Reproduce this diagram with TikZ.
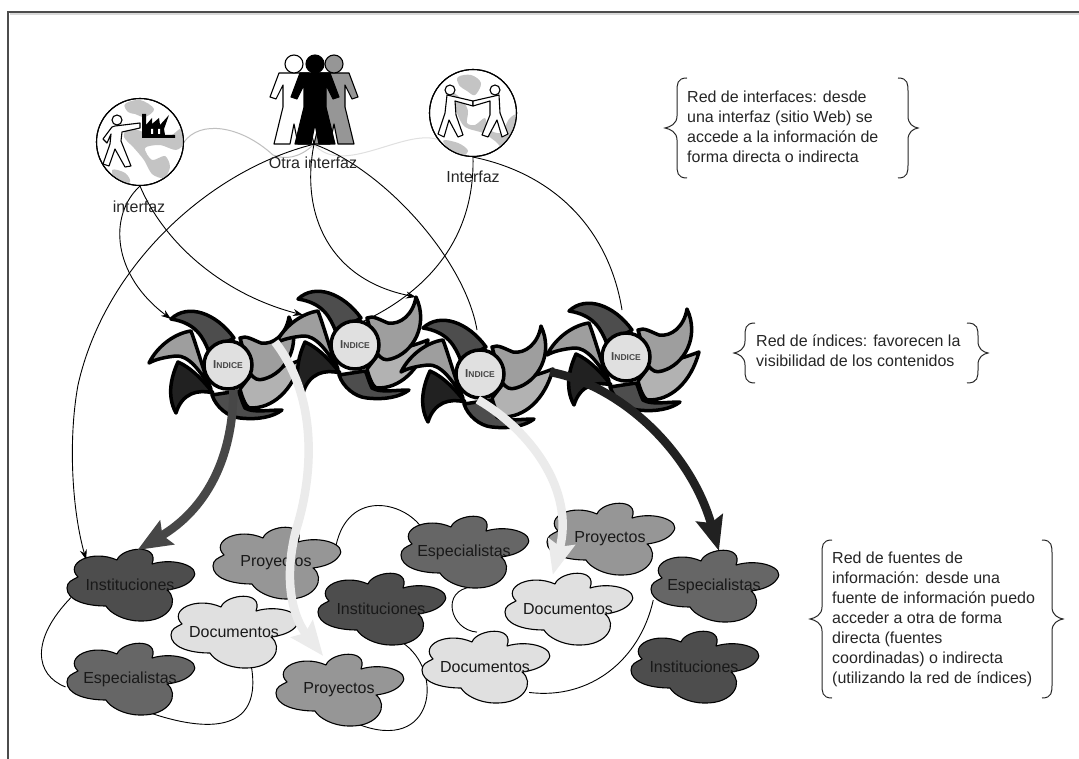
\documentclass[tikz,border=0pt]{standalone}
\usepackage{fontspec}
\setmainfont{Liberation Sans}
\usetikzlibrary{arrows.meta,shapes.geometric,backgrounds}
\definecolor{cInst}{HTML}{4D4D4D}
\definecolor{cEsp}{HTML}{666666}
\definecolor{cProy}{HTML}{969696}
\definecolor{cDoc}{HTML}{E0E0E0}
\definecolor{cTxt}{HTML}{262626}
\definecolor{cLand}{HTML}{C4C4C4}
\tikzset{
  lab/.style={font=\fontsize{16}{20}\selectfont,text=cTxt,inner sep=0pt,align=left},
  cloudanchor/.style={ellipse,minimum width=126pt,minimum height=70pt,inner sep=0pt,font=\fontsize{16}{20}\selectfont,text=black!90},
  cloudline/.style={draw=black,line width=1.1pt,line join=round},
  blade/.style={draw=black,line width=3.5pt,line join=round},
  hub/.style={circle,draw=black,line width=3.5pt,fill=cDoc,minimum size=48pt,inner sep=0pt,text=cTxt!85!white},
  globe/.style={circle,draw=black,line width=1.1pt,minimum size=87pt,inner sep=0pt},
  figure/.style={draw=black,line width=1.1pt,line join=round},
  thinline/.style={draw=black,line width=0.9pt},
  thinarrow/.style={thinline,-{Stealth[length=10pt,width=7pt]}},
  link/.style={line width=1pt},
  heavy/.style={line width=8.5pt,-{Stealth[length=34pt,width=27pt,inset=5pt]}},
  brace/.style={draw=cTxt,line width=1pt}
}
% cloud: name, x, y, colour, text
\newcommand{\cloudnode}[5]{%
  \begin{scope}[shift={(#2,#3)}]
    \path[cloudline,fill=#4] (-52,-8) .. controls (-66,-22) and (-38,-36) .. (-13,-25)
      .. controls (-8,-38) and (30,-42) .. (22,-21)
      .. controls (45,-28) and (72,-18) .. (63,-7)
      .. controls (58,1) and (45,4) .. (37,5)
      .. controls (50,15) and (40,37) .. (10,36)
      .. controls (-6,36) and (-20,28) .. (-24,21)
      .. controls (-45,21) and (-63,15) .. (-63,3)
      .. controls (-63,-3) and (-58,-5) .. (-52,-8) -- cycle;
    \node[cloudanchor] (#1) at (0,0) {#5};
  \end{scope}}
% pinwheel: name, x, y
\newcommand{\pinwheel}[3]{%
  \begin{scope}[shift={(#2,#3)}]
    \path[blade,fill=black!87] (-52,48) .. controls (-62,30) and (-56,10) .. (-50,-3)
      .. controls (-38,2) and (-25,15) .. (-15,28) .. controls (-30,24) and (-46,28) .. (-52,48) -- cycle;
    \path[blade,fill=cInst] (54,45) .. controls (40,45) and (25,48) .. (17,43)
      .. controls (13,35) and (12,28) .. (10,26) -- (-16,30)
      .. controls (-12,42) and (0,52) .. (12,53) .. controls (30,55) and (45,52) .. (54,45) -- cycle;
    \path[blade,fill=black!30] (73,-5) .. controls (60,0) and (45,5) .. (26,6) -- (12,24)
      .. controls (14,32) and (17,40) .. (21,43) .. controls (45,44) and (65,25) .. (73,-5) -- cycle;
    \path[blade,fill=black!38] (61,-48) .. controls (58,-30) and (45,-20) .. (33,-22)
      .. controls (25,-25) and (18,-30) .. (12,-27) -- (22,8)
      .. controls (26,14) and (30,16) .. (36,14) .. controls (58,8) and (74,-20) .. (61,-48) -- cycle;
    \path[blade,fill=black!38] (-79,-2) .. controls (-70,-20) and (-52,-32) .. (-37,-34)
      .. controls (-30,-15) and (-25,5) .. (-17,24)
      .. controls (-28,5) and (-40,-10) .. (-52,-9) .. controls (-62,-8) and (-72,-6) .. (-79,-2) -- cycle;
    \path[blade,fill=cInst] (-57,-46) .. controls (-40,-62) and (-12,-52) .. (6,-27) -- (-19,-13)
      .. controls (-25,-28) and (-32,-42) .. (-57,-46) -- cycle;
    \node[hub] (#1) at (0,0) {\bfseries{\fontsize{11.5}{12}\selectfont I}{\fontsize{8.5}{12}\selectfont NDICE}};
    \coordinate (#1toptip) at (-57,-46);
    \coordinate (#1righttip) at (61,-48);
    \coordinate (#1blade) at (47,-23);
    \coordinate (#1back) at (-76,15);
  \end{scope}}
% standing person: x, y, fill
\newcommand{\person}[3]{%
  \begin{scope}[shift={(#1,#2)}]
    \path[figure,fill=#3] (-15,-34) -- (-24,-10) -- (-18,-8) -- (-11,-22) -- (-11,0) -- (-20,37) -- (-4,37)
      -- (0,17) -- (4,37) -- (20,37) -- (11,0) -- (11,-22) -- (18,-8) -- (24,-10) -- (15,-34) -- cycle;
    \path[figure,fill=#3] (0,-43) circle[radius=9];
  \end{scope}}
\newcommand{\bracepair}[9]{%
  % xl-point xl-body xl-end xr-end xr-body xr-point ytop ymid ybot
  \path[brace] (#3,#7) .. controls (#2,#7) and (#2,#7+6) .. (#2,#7+14) -- (#2,#8-12)
    .. controls (#2,#8-4) and (#1+5,#8-1) .. (#1,#8) .. controls (#1+5,#8+1) and (#2,#8+4) .. (#2,#8+12)
    -- (#2,#9-14) .. controls (#2,#9-6) and (#2,#9) .. (#3,#9);
  \path[brace] (#4,#7) .. controls (#5,#7) and (#5,#7+6) .. (#5,#7+14) -- (#5,#8-12)
    .. controls (#5,#8-4) and (#6-5,#8-1) .. (#6,#8) .. controls (#6-5,#8+1) and (#5,#8+4) .. (#5,#8+12)
    -- (#5,#9-14) .. controls (#5,#9-6) and (#5,#9) .. (#4,#9);}
\begin{document}
\begin{tikzpicture}[x=1pt,y=-1pt]
\useasboundingbox (0,0) rectangle (1079,759);
\draw[black!15,line width=1.5pt] (10,14) -- (1079,14);
\draw[black!70,line width=1.5pt] (8,759) -- (8,12) -- (1079,12);

% clouds
\cloudnode{inst1}{130}{585}{cInst}{Instituciones}
\cloudnode{esp1}{130}{679}{cEsp}{Especialistas}
\cloudnode{doc1}{234}{632}{cDoc}{Documentos}
\cloudnode{proy1}{276}{563}{cProy}{Proyectos}
\cloudnode{proy2}{339}{690}{cProy}{Proyectos}
\cloudnode{inst2}{381}{609}{cInst}{Instituciones}
\cloudnode{esp2}{464}{552}{cEsp}{Especialistas}
\cloudnode{proy3}{610}{539}{cProy}{Proyectos}
\cloudnode{doc2}{568}{609}{cDoc}{Documentos}
\cloudnode{doc3}{485}{667}{cDoc}{Documentos}
\cloudnode{esp3}{714}{586}{cEsp}{Especialistas}
\cloudnode{inst3}{694}{667}{cInst}{Instituciones}

% index pinwheels
\pinwheel{p1}{228}{365}
\pinwheel{p2}{355}{345}
\pinwheel{p3}{480}{374}
\pinwheel{p4}{626}{357}

% globes
\node[globe,fill=white] (g1) at (140,142) {};
\begin{scope}[shift={(140,142)}]
  \clip (0,0) circle[radius=43];
  \fill[cLand] plot[smooth cycle,tension=0.6] coordinates {(-15,-38) (0,-42) (14,-33) (5,-25) (-5,-28) (-12,-30)};
  \fill[cLand] plot[smooth cycle,tension=0.5] coordinates {(-12,-14) (3,-10) (10,-4) (30,-6) (42,-14) (45,0) (36,8) (20,3)
    (5,6) (12,18) (25,14) (30,25) (24,36) (12,32) (4,18) (-6,6) (-16,-5)};
  \fill[cLand] plot[smooth cycle,tension=0.6] coordinates {(-28,28) (-15,31) (-10,40) (-22,42)};
\end{scope}
\node[globe] at (g1) {};
\begin{scope}[shift={(140,142)}]
  \path[figure,fill=white] (-25,-16) -- (0,-19) -- (0,-14) -- (-18,-10) -- (-19,-1) -- (-9,24) -- (-15,25)
    -- (-25,7) -- (-31,24) -- (-37,22) -- (-30,2) -- (-29,-8) -- (-33,1) -- (-37,-3) -- (-28,-15) -- cycle;
  \path[figure,fill=white] (-23,-22) circle[radius=5];
  \fill[black] (2,-28) -- (6,-28) -- (6,-17) -- (12,-24) -- (12,-18) -- (19,-24) -- (20,-17) -- (29,-27) -- (24,-13) -- (25,-7) -- (35,-7) -- (35,-4) -- (2,-4) -- cycle;
  \fill[white] (11,-13) rectangle (13,-8) (18,-13) rectangle (20,-8);
\end{scope}

\node[globe,fill=white] (g3) at (473,113) {};
\begin{scope}[shift={(473,113)}]
  \clip (0,0) circle[radius=43];
  \fill[cLand] plot[smooth cycle,tension=0.6] coordinates {(-15,-36) (-2,-38) (8,-30) (2,-18) (-6,-22) (-14,-28)};
  \fill[cLand] plot[smooth cycle,tension=0.5] coordinates {(-20,-20) (-10,-12) (-5,-2) (-6,10) (2,12) (12,5) (15,16) (28,20) (36,6) (44,2) (44,22) (32,36) (22,28) (10,20) (-8,14) (-16,0)};
  \fill[cLand] plot[smooth cycle,tension=0.6] coordinates {(-30,28) (-15,30) (-5,38) (-15,44)};
\end{scope}
\node[globe] at (g3) {};
\begin{scope}[shift={(473,113)}]
  \path[figure,fill=white] (-26,-18) -- (0,-12) -- (0,-7) -- (-18,-12) -- (-17,2) -- (-10,22) -- (-15,24)
    -- (-24,7) -- (-29,24) -- (-35,21) -- (-28,0) -- cycle;
  \path[figure,fill=white] (26,-18) -- (0,-12) -- (0,-7) -- (17,-12) -- (17,2) -- (9,22) -- (15,24)
    -- (24,7) -- (29,24) -- (35,21) -- (27,0) -- cycle;
  \path[figure,fill=white] (-23,-23) circle[radius=5];
  \path[figure,fill=white] (22,-23) circle[radius=5];
\end{scope}

% people
\node[minimum width=88pt,minimum height=89pt,inner sep=0pt] (people) at (314,99.5) {};
\person{294}{107}{white}
\person{334}{107}{cProy}
\person{315}{107}{black}

% named free ends
\coordinate (p2in) at (303,315);
\coordinate (p2low) at (362,322);
\coordinate (p3in) at (477,330);
\coordinate (p4in) at (622,310);

% thin connectors, behind everything
\begin{pgfonlayer}{background}
  \fill[white] (0,0) rectangle (1079,759);
  \draw[link,draw=black!25] (g1.east) .. controls (200,120) and (240,125) .. (273,155) .. controls (285,160) and (300,158) .. (people.south);
  \draw[link,draw=black!12] (people.south) .. controls (340,175) and (395,135) .. (430,138) .. controls (450,140) and (460,150) .. (g3.south);
  \draw[thinarrow] (g1.south) .. controls (108,215) and (112,275) .. (p1toptip);
  \draw[thinarrow] (g1.south) .. controls (165,245) and (225,295) .. (p2in);
  \draw[thinarrow] (people.south) .. controls (300,215) and (330,280) .. (p2righttip);
  \draw[thinline] (people.south) .. controls (385,170) and (465,260) .. (p3in);
  \draw[thinarrow] (people.south) .. controls (210,170) and (105,265) .. (78,385) .. controls (68,440) and (72,510) .. (inst1.150);
  \draw[thinline] (g3.south) .. controls (475,245) and (420,295) .. (p2low);
  \draw[thinline] (g3.south) .. controls (560,175) and (610,235) .. (p4in);
  \draw[thinline] (inst1.192) .. controls (30,640) and (35,675) .. (esp1.187);
  \draw[thinline] (esp1.300) .. controls (185,725) and (265,745) .. (doc1.297);
  \draw[thinline] (proy1.12) .. controls (345,490) and (400,500) .. (esp2.149);
  \draw[thinline] (inst2.302) .. controls (445,670) and (435,755) .. (proy2.298);
  \draw[thinline] (esp2.283) .. controls (440,590) and (450,630) .. (doc3.103);
  \draw[thinline] (doc3.330) .. controls (590,700) and (640,660) .. (esp3.193);
\end{pgfonlayer}

% thick arrows
\draw[heavy,color=black!72] (p1.-78) .. controls (233,460) and (205,510) .. (inst1.78);
\draw[heavy,color=black!8] (p1blade) .. controls (320,400) and (312,480) .. (296,530) .. controls (282,585) and (295,620) .. (proy2.115);
\draw[heavy,color=black!8] (p3.-95) .. controls (530,430) and (575,490) .. (doc2.114);
\draw[heavy,color=black!87] (p4back) .. controls (620,385) and (690,450) .. (esp3.82);

% labels
\node[lab] (l1) at (139,207) {interfaz};
\node[lab] (l2) at (313,163) {Otra interfaz};
\node[lab] (l3) at (473,177) {Interfaz};

% right-hand notes
\node[lab,anchor=west] (n1) at (687,127) {Red de interfaces: desde\\una interfaz (sitio Web) se\\accede a la información de\\forma directa o indirecta};
\bracepair{665}{677}{687}{898}{908}{918}{78}{128}{178}
\node[lab,anchor=west] (n2) at (756,351) {Red de índices: favorecen la\\visibilidad de los contenidos};
\bracepair{734}{745}{755}{967}{978}{988}{323}{353}{383}
\node[lab,anchor=west] (n3) at (832,619) {Red de fuentes de\\información: desde una\\fuente de información puedo\\acceder a otra de forma\\directa (fuentes\\coordinadas) o indirecta\\(utilizando la red de índices)};
\bracepair{810}{822}{832}{1042}{1052}{1063}{540}{619}{698}
\end{tikzpicture}
\end{document}
